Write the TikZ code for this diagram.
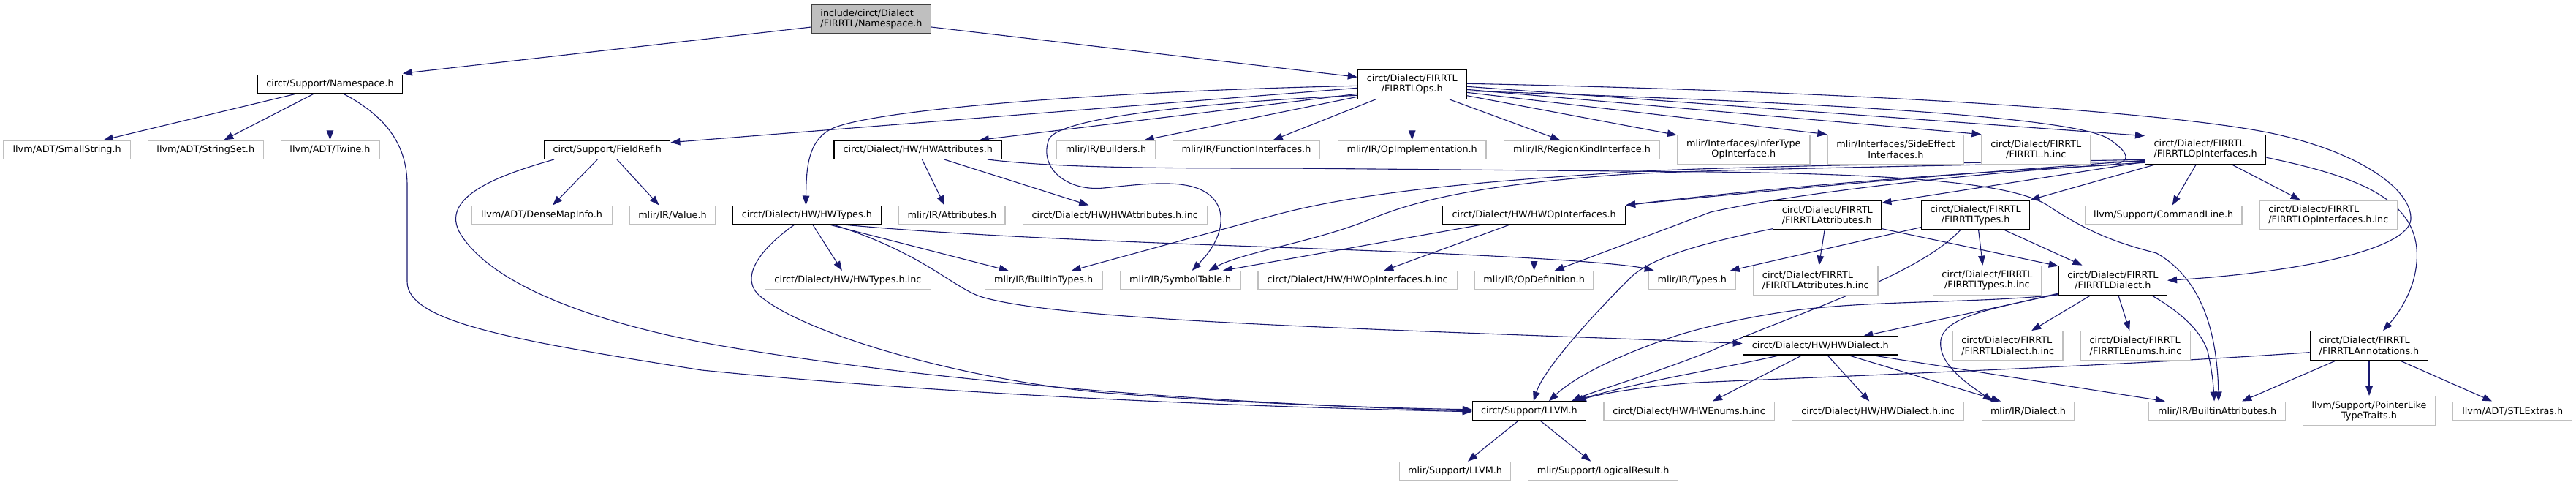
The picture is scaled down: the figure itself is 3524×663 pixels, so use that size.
\documentclass[tikz,border=0pt]{standalone}
\usepackage{fontspec}
\setmainfont{DejaVu Sans}
\usetikzlibrary{arrows.meta,calc}
\definecolor{edgeblue}{HTML}{191970}
\definecolor{leafgray}{HTML}{BFBFBF}
\definecolor{rootfill}{HTML}{BFBFBF}
\definecolor{rootdraw}{HTML}{404040}
\pgfdeclarelayer{edgelayer}
\pgfsetlayers{edgelayer,main}
\begin{document}
\begin{tikzpicture}[x=1pt,y=-1pt,
  every node/.style={font=\fontsize{12.8}{14.3}\selectfont, inner sep=0pt, anchor=center},
  hbox/.style={draw=black, line width=1.3pt, fill=white, minimum height=25.3pt},
  lbox/.style={draw=leafgray, line width=1.3pt, fill=white, minimum height=25.3pt},
  two/.style={minimum height=40pt},
  rbox/.style={draw=rootdraw, fill=rootfill, line width=1.3pt, minimum height=40pt, align=left},
  dep/.style={draw=edgeblue, line width=1.1pt, -{Triangle[length=13pt,width=9.5pt]}},
]
\path[use as bounding box] (0,0) rectangle (3524,663);

% ---------- nodes ----------
\node[rbox, minimum width=163pt] (root) at (1192,26) {include/circt/Dialect\\/FIRRTL/Namespace.h};
\node[hbox, minimum width=197.5pt] (ns) at (451.5,115.3) {circt/Support/Namespace.h};
\node[lbox, minimum width=174pt] (smallstring) at (91.7,204.7) {llvm/ADT/SmallString.h};
\node[lbox, minimum width=157.7pt] (stringset) at (281.3,204.7) {llvm/ADT/StringSet.h};
\node[lbox, minimum width=134.7pt] (twine) at (451.5,204.7) {llvm/ADT/Twine.h};
\node[hbox, two, align=center, minimum width=148.5pt] (ops) at (1931.7,115.3) {circt/Dialect/FIRRTL\\/FIRRTLOps.h};
\node[hbox, minimum width=172.2pt] (fieldref) at (830.7,204.7) {circt/Support/FieldRef.h};
\node[lbox, minimum width=192.1pt] (densemap) at (741.1,293.8) {llvm/ADT/DenseMapInfo.h};
\node[lbox, minimum width=117.5pt] (value) at (920,293.8) {mlir/IR/Value.h};
\node[hbox, minimum width=202.7pt] (hwtypes) at (1103.8,293.8) {circt/Dialect/HW/HWTypes.h};
\node[hbox, minimum width=229.5pt] (hwattr) at (1255.8,204.7) {circt/Dialect/HW/HWAttributes.h};
\node[lbox, minimum width=145.4pt] (attributes) at (1302.4,293.8) {mlir/IR/Attributes.h};
\node[lbox, minimum width=252.2pt] (hwattrinc) at (1525.3,293.8) {circt/Dialect/HW/HWAttributes.h.inc};
\node[lbox, minimum width=135.1pt] (builders) at (1513,204.7) {mlir/IR/Builders.h};
\node[lbox, minimum width=201.5pt] (funcintf) at (1705,204.7) {mlir/IR/FunctionInterfaces.h};
\node[lbox, minimum width=202.8pt] (opimpl) at (1931.7,204.7) {mlir/IR/OpImplementation.h};
\node[lbox, minimum width=213.5pt] (regionkind) at (2164,204.7) {mlir/IR/RegionKindInterface.h};
\node[lbox, two, align=center, minimum width=181.6pt] (infertype) at (2385.3,204.3) {mlir/Interfaces/InferType\\OpInterface.h};
\node[lbox, two, align=center, minimum width=186.7pt] (sideeffect) at (2593.3,204.3) {mlir/Interfaces/SideEffect\\Interfaces.h};
\node[lbox, two, align=center, minimum width=148.5pt] (firrtlhinc) at (2785.3,204.3) {circt/Dialect/FIRRTL\\/FIRRTL.h.inc};
\node[hbox, two, align=left, minimum width=165.2pt] (opintf) at (3017.2,204.3) {circt/Dialect/FIRRTL\\/FIRRTLOpInterfaces.h};
\node[lbox, minimum width=214.8pt] (commandline) at (2959.7,293.8) {llvm/Support/CommandLine.h};
\node[lbox, two, align=left, minimum width=187.8pt] (opintfinc) at (3185.3,294) {circt/Dialect/FIRRTL\\/FIRRTLOpInterfaces.h.inc};
\node[hbox, two, align=left, minimum width=148.1pt] (firrtlattr) at (2499.7,294) {circt/Dialect/FIRRTL\\/FIRRTLAttributes.h};
\node[hbox, two, align=center, minimum width=148.1pt] (firrtltypes) at (2702.6,294) {circt/Dialect/FIRRTL\\/FIRRTLTypes.h};
\node[hbox, minimum width=249.6pt] (hwopintf) at (2098.6,293.8) {circt/Dialect/HW/HWOpInterfaces.h};
\node[lbox, minimum width=226.8pt] (hwtypesinc) at (1159.9,383.3) {circt/Dialect/HW/HWTypes.h.inc};
\node[lbox, minimum width=160.4pt] (builtintypes) at (1427.7,383.3) {mlir/IR/BuiltinTypes.h};
\node[lbox, minimum width=164.5pt] (symboltable) at (1614.7,383.3) {mlir/IR/SymbolTable.h};
\node[lbox, minimum width=272.4pt] (hwopintfinc) at (1857.2,383.3) {circt/Dialect/HW/HWOpInterfaces.h.inc};
\node[lbox, minimum width=163pt] (opdef) at (2098.6,383.3) {mlir/IR/OpDefinition.h};
\node[lbox, minimum width=119.2pt] (types) at (2314.7,383.3) {mlir/IR/Types.h};
\node[lbox, two, align=left, minimum width=170.6pt] (attrinc) at (2483.8,383.3) {circt/Dialect/FIRRTL\\/FIRRTLAttributes.h.inc};
\node[lbox, two, align=center, minimum width=147.8pt] (typesinc) at (2718.4,383.3) {circt/Dialect/FIRRTL\\/FIRRTLTypes.h.inc};
\node[hbox, two, align=center, minimum width=148.1pt] (firrtldialect) at (2890.4,383.3) {circt/Dialect/FIRRTL\\/FIRRTLDialect.h};
\node[hbox, minimum width=212pt, minimum height=25pt] (hwdialect) at (2490.3,472.5) {circt/Dialect/HW/HWDialect.h};
\node[lbox, two, align=left, minimum width=150.8pt] (dialectinc) at (2746.7,472.7) {circt/Dialect/FIRRTL\\/FIRRTLDialect.h.inc};
\node[lbox, two, align=left, minimum width=149.7pt] (enumsinc) at (2921.5,472.7) {circt/Dialect/FIRRTL\\/FIRRTLEnums.h.inc};
\node[hbox, two, align=left, minimum width=161.6pt] (annotations) at (3241,472.7) {circt/Dialect/FIRRTL\\/FIRRTLAnnotations.h};
\node[hbox, minimum width=155pt, minimum height=25.7pt] (llvm) at (2091.9,561.8) {circt/Support/LLVM.h};
\node[lbox, minimum width=233.3pt] (hwenumsinc) at (2310.6,561.8) {circt/Dialect/HW/HWEnums.h.inc};
\node[lbox, minimum width=235pt] (hwdialectinc) at (2569.1,561.8) {circt/Dialect/HW/HWDialect.h.inc};
\node[lbox, minimum width=126.7pt] (dialect) at (2774.5,561.8) {mlir/IR/Dialect.h};
\node[lbox, minimum width=186.6pt] (builtinattrs) at (3033.1,561.8) {mlir/IR/BuiltinAttributes.h};
\node[lbox, two, align=center, minimum width=181.5pt] (pointerlike) at (3241,561.7) {llvm/Support/PointerLike\\TypeTraits.h};
\node[lbox, minimum width=163.2pt] (stlextras) at (3437.2,561.8) {llvm/ADT/STLExtras.h};
\node[lbox, minimum width=152pt] (mlirllvm) at (1990.5,644) {mlir/Support/LLVM.h};
\node[lbox, minimum width=205.1pt] (logicalresult) at (2193.2,644) {mlir/Support/LogicalResult.h};

% ---------- edges ----------
\begin{pgfonlayer}{edgelayer}
% root
\draw[dep] ([yshift=-11]root.west) -- ([yshift=15]ns.east);
\draw[dep] ([yshift=-11]root.east) -- ([yshift=10]ops.west);
% Namespace
\draw[dep] ([xshift=-48]ns.south) -- ([xshift=50]smallstring.north);
\draw[dep] ([xshift=-23]ns.south) -- ([xshift=25]stringset.north);
\draw[dep] (ns.south) -- (twine.north);
\draw[dep] ([xshift=19]ns.south) .. controls (530,160) and (557,200) .. (557,253) -- (557,385)
  .. controls (557,440) and (700,465) .. (960,506) .. controls (1300,540) and (1700,556) .. ([yshift=-1]llvm.west);
% FieldRef
\draw[dep] ([xshift=-13.4]fieldref.south) -- ([xshift=15]densemap.north);
\draw[dep] ([xshift=13.3]fieldref.south) -- ([xshift=-18.5]value.north);
\draw[dep] ([xshift=-72.7]fieldref.south) .. controls (680,240) and (600,270) .. (630,320)
  .. controls (680,400) and (850,450) .. (1000,475) .. controls (1300,525) and (1700,553) .. (llvm.west);
% HWTypes
\draw[dep] ([xshift=8]hwtypes.south) -- ([xshift=-8]hwtypesinc.north);
\draw[dep] ([xshift=-17]hwtypes.south) .. controls (1040,340) and (1010,380) .. (1040,405)
  .. controls (1100,455) and (1300,515) .. (1500,536) .. controls (1700,552) and (1900,558) .. ([yshift=2]llvm.west);
\draw[dep] ([xshift=31]hwtypes.south) -- ([xshift=-48]builtintypes.north);
\draw[dep] ([xshift=36]hwtypes.south) .. controls (1260,345) and (1300,390) .. (1340,405)
  .. controls (1450,440) and (1900,450) .. ([yshift=3]hwdialect.west);
\draw[dep] ([xshift=50]hwtypes.south) .. controls (1400,330) and (1800,338) .. (2000,348)
  .. controls (2150,355) and (2230,362) .. ([xshift=-52]types.north);
% HWAttributes
\draw[dep] ([xshift=5.6]hwattr.south) -- ([xshift=-10.4]attributes.north);
\draw[dep] ([xshift=36]hwattr.south) -- ([xshift=-36]hwattrinc.north);
\draw[dep] ([xshift=95]hwattr.south) .. controls (1450,230) and (1600,230) .. (1760,230) -- (2340,235)
  .. controls (2600,238) and (2750,250) .. (2800,280) .. controls (2860,320) and (2900,333) .. (2950,346)
  .. controls (3010,380) and (3033,450) .. ([xshift=2]builtinattrs.north);
% FIRRTLOps
\draw[dep] ([yshift=-5]ops.west) -- ([yshift=10]fieldref.east);
\draw[dep] ([yshift=-2]ops.west) .. controls (1500,125) and (1200,150) .. (1140,175)
  .. controls (1105,190) and (1103,230) .. ([xshift=-1.4]hwtypes.north);
\draw[dep] ([yshift=-13]ops.west) -- ([xshift=84]hwattr.north);
\draw[dep] ([yshift=-15]ops.west) .. controls (1650,140) and (1450,160) .. (1435,190)
  .. controls (1420,230) and (1460,262) .. (1510,257) .. controls (1580,250) and (1650,240) .. (1668,285)
  .. controls (1678,320) and (1650,350) .. ([xshift=16]symboltable.north);
\draw[dep] ([yshift=-17]ops.west) -- ([xshift=52.7]builders.north);
\draw[dep] ([xshift=-50]ops.south) -- ([xshift=36.7]funcintf.north);
\draw[dep] (ops.south) -- (opimpl.north);
\draw[dep] ([xshift=51.3]ops.south) -- ([xshift=-30]regionkind.north);
\draw[dep] ([yshift=-15.4]ops.east) -- ([yshift=-1]infertype.north west);
\draw[dep] ([yshift=-11]ops.east) -- (sideeffect.north west);
\draw[dep] ([yshift=-7]ops.east) -- (firrtlhinc.north west);
\draw[dep] ([yshift=-3]ops.east) -- ([yshift=-2]opintf.north west);
\draw[dep] ([yshift=1]ops.east) .. controls (2500,124) and (2950,150) .. (3107,182)
  .. controls (3230,208) and (3300,260) .. (3298,300) .. controls (3295,340) and (3150,372) .. (firrtldialect.east);
\draw[dep] ([yshift=-9]ops.east) .. controls (2500,140) and (2840,160) .. (2885,190)
  .. controls (2915,210) and (2918,224) .. (2880,226) .. controls (2600,240) and (2350,265) .. (hwopintf.north east);
% FIRRTLOpInterfaces
\draw[dep] ([xshift=-13]opintf.south) -- ([xshift=12]commandline.north);
\draw[dep] ([xshift=36]opintf.south) -- ([xshift=-38.6]opintfinc.north);
\draw[dep] ([yshift=-11]opintf.east) .. controls (3220,240) and (3300,270) .. (3306,340)
  .. controls (3310,390) and (3280,430) .. ([xshift=19]annotations.north);
\draw[dep] ([xshift=-69]opintf.south) -- (firrtltypes.north east);
\draw[dep] ([yshift=-17]opintf.west) -- ([yshift=-4]firrtlattr.north east);
\draw[dep] ([yshift=-15]opintf.west) .. controls (2700,235) and (2400,262) .. (hwopintf.north east);
\draw[dep] ([yshift=-16]opintf.west) .. controls (2600,228) and (2300,232) .. (2199,240)
  .. controls (2050,252) and (1950,268) .. (1874,300) .. controls (1800,330) and (1700,345) .. ([xshift=39]symboltable.north);
\draw[dep] ([yshift=-14]opintf.west) .. controls (2600,224) and (2300,229) .. (2199,237)
  .. controls (2000,250) and (1850,265) .. (1740,295) -- ([xshift=38]builtintypes.north);
\draw[dep] ([yshift=-18]opintf.west) .. controls (2700,235) and (2450,265) .. (2340,290) -- ([xshift=28]opdef.north);
% HWOpInterfaces
\draw[dep] ([xshift=-33.3]hwopintf.south) -- ([xshift=36]hwopintfinc.north);
\draw[dep] (hwopintf.south) -- (opdef.north);
\draw[dep] ([xshift=-71.6]hwopintf.south) -- ([xshift=58]symboltable.north);
% FIRRTLAttributes
\draw[dep] ([xshift=-3.7]firrtlattr.south) -- ([xshift=4.6]attrinc.north);
\draw[dep] ([yshift=2]firrtlattr.south east) -- ([yshift=-1]firrtldialect.north west);
\draw[dep] ([yshift=2]firrtlattr.south west) .. controls (2340,330) and (2260,350) .. (2230,380)
  .. controls (2160,450) and (2110,510) .. ([xshift=6]llvm.north);
% FIRRTLTypes
\draw[dep] ([yshift=4]firrtltypes.south west) -- ([xshift=52]types.north);
\draw[dep] ([xshift=4]firrtltypes.south) -- ([xshift=-6]typesinc.north);
\draw[dep] ([xshift=40]firrtltypes.south) -- ([xshift=-42]firrtldialect.north);
\draw[dep] ([xshift=-21]firrtltypes.south) .. controls (2620,380) and (2450,430) .. (2340,480)
  .. controls (2250,515) and (2180,535) .. ([xshift=58]llvm.north);
% FIRRTLDialect
\draw[dep] ([yshift=2]firrtldialect.south west) -- ([xshift=59]hwdialect.north);
\draw[dep] ([xshift=-30.8]firrtldialect.south) -- ([xshift=32.5]dialectinc.north);
\draw[dep] ([xshift=7.6]firrtldialect.south) -- ([xshift=-8.3]enumsinc.north);
\draw[dep] ([yshift=3]firrtldialect.south west) .. controls (2740,420) and (2660,430) .. (2655,465)
  .. controls (2650,500) and (2700,530) .. ([xshift=-48.8]dialect.north);
\draw[dep] ([xshift=53.4]firrtldialect.south) .. controls (2980,425) and (3010,450) .. (3020,480)
  .. controls (3027,510) and (3028,530) .. ([xshift=-4]builtinattrs.north);
\draw[dep] ([yshift=1]firrtldialect.south west) .. controls (2700,415) and (2560,410) .. (2450,425)
  .. controls (2380,435) and (2320,450) .. (2290,460) .. controls (2230,480) and (2160,510) .. ([xshift=27]llvm.north);
% HWDialect
\draw[dep] ([xshift=-25]hwdialect.south) -- ([xshift=32.4]hwenumsinc.north);
\draw[dep] ([xshift=9.6]hwdialect.south) -- ([xshift=-11.8]hwdialectinc.north);
\draw[dep] ([xshift=38.3]hwdialect.south) -- ([xshift=-37.4]dialect.north);
\draw[dep] ([xshift=70.7]hwdialect.south) -- ([xshift=-71.4]builtinattrs.north);
\draw[dep] ([xshift=-55.5]hwdialect.south) .. controls (2350,505) and (2250,520) .. ([xshift=61]llvm.north);
% FIRRTLAnnotations
\draw[dep] ([yshift=-9]annotations.west) .. controls (2900,500) and (2500,515) .. (2320,523)
  .. controls (2250,528) and (2190,538) .. ([xshift=65]llvm.north);
\draw[dep] ([xshift=-46.5]annotations.south) -- ([xshift=34]builtinattrs.north);
\draw[dep] (annotations.south) -- (pointerlike.north);
\draw[dep] ([xshift=43]annotations.south) -- ([xshift=-28]stlextras.north);
% LLVM
\draw[dep] ([xshift=-15]llvm.south) -- ([xshift=17.4]mlirllvm.north);
\draw[dep] ([xshift=15.5]llvm.south) -- ([xshift=-17]logicalresult.north);
\end{pgfonlayer}
\end{tikzpicture}
\end{document}
